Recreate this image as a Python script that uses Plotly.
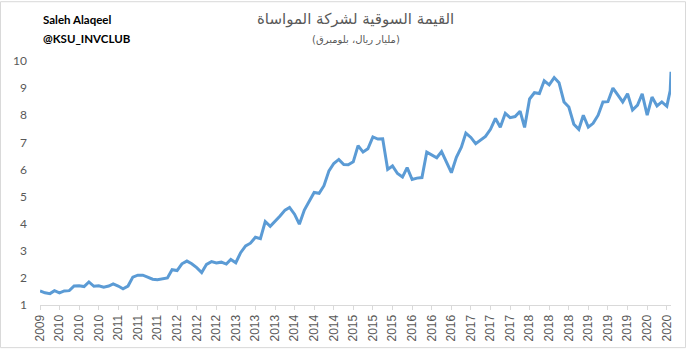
import pandas as pd
import plotly.graph_objects as go

# Monthly market value (billion SAR), Dec 2009 .. Aug 2020, plus two late-Aug readings
month_start = "2009-12-01"
n_months = 129
extra_dates = ["2020-08-22", "2020-08-27"]

values = [
    1.52, 1.45, 1.42, 1.53, 1.45, 1.52, 1.53, 1.70, 1.71, 1.68,
    1.85, 1.69, 1.71, 1.66, 1.70, 1.78, 1.70, 1.60, 1.70, 2.03,
    2.10, 2.10, 2.03, 1.95, 1.93, 1.97, 2.00, 2.30, 2.27, 2.52,
    2.62, 2.52, 2.38, 2.20, 2.50, 2.60, 2.55, 2.58, 2.51, 2.68,
    2.56, 2.93, 3.18, 3.28, 3.50, 3.45, 4.08, 3.90, 4.08, 4.28,
    4.50, 4.60, 4.35, 3.98, 4.50, 4.80, 5.15, 5.12, 5.40, 5.95,
    6.22, 6.37, 6.18, 6.17, 6.28, 6.88, 6.64, 6.76, 7.20, 7.12,
    7.13, 6.00, 6.13, 5.85, 5.72, 6.07, 5.63, 5.68, 5.70, 6.64,
    6.53, 6.43, 6.66, 6.28, 5.88, 6.45, 6.82, 7.34, 7.18, 6.95,
    7.10, 7.22, 7.48, 7.88, 7.56, 8.07, 7.91, 7.95, 8.15, 7.55,
    8.60, 8.83, 8.80, 9.27, 9.12, 9.39, 9.20, 8.49, 8.30, 7.67,
    7.48, 8.00, 7.56, 7.70, 8.00, 8.49, 8.50, 9.00, 8.75, 8.49,
    8.79, 8.19, 8.37, 8.79, 8.00, 8.67, 8.34, 8.49, 8.33,
    8.91, 9.60,
]

tick_labels = [
    "2009", "2010", "2010", "2010", "2011", "2011", "2011",
    "2012", "2012", "2012", "2013", "2013", "2013",
    "2014", "2014", "2014", "2015", "2015", "2015",
    "2016", "2016", "2016", "2017", "2017", "2017",
    "2018", "2018", "2018", "2019", "2019", "2019",
    "2020", "2020",
]

title_text = "القيمة السوقية لشركة المواساة"
subtitle_text = "(مليار ريال، بلومبرق)"
author_lines = ["Saleh Alaqeel", "@KSU_INVCLUB"]

dates = list(pd.date_range(month_start, periods=n_months, freq="MS").strftime("%Y-%m-%d")) + extra_dates
tick_dates = dates[0:n_months:4]

W, H = 687, 354
L, R, T, B = 40, 16, 61, 44
pw, ph = W - L - R, H - T - B

def px_x(p):
    return (p - L) / pw

def px_y(p):
    return (H - B - p) / ph

fig = go.Figure()
fig.add_trace(go.Scatter(
    x=dates, y=values, mode="lines",
    line=dict(color="#5B9BD5", width=3),
    hoverinfo="skip",
))

gray = "#595959"
fig.update_layout(
    width=W, height=H,
    margin=dict(l=L, r=R, t=T, b=B),
    paper_bgcolor="white", plot_bgcolor="white",
    showlegend=False,
    xaxis=dict(
        type="date",
        range=[dates[0], dates[-1]],
        tickmode="array", tickvals=tick_dates, ticktext=tick_labels,
        tickangle=-90,
        tickfont=dict(family="Liberation Sans, Arial", size=12, color=gray),
        ticks="outside", ticklen=4, tickcolor="#d9d9d9", tickwidth=1,
        showline=True, linecolor="#d9d9d9", linewidth=1,
        showgrid=False, zeroline=False,
    ),
    yaxis=dict(
        range=[1, 10], tickmode="array", tickvals=list(range(1, 11)),
        tickfont=dict(family="Lato, Carlito, sans-serif", size=12, color=gray),
        showline=False, showgrid=False, zeroline=False,
        ticks="", ticklabelstandoff=12,
    ),
)

annotations = [
    dict(text=title_text, x=0.5, y=px_y(18), xref="paper", yref="paper",
         showarrow=False, xanchor="center", yanchor="middle",
         font=dict(family="DejaVu Sans", size=15, color=gray)),
    dict(text=subtitle_text, x=0.5, y=px_y(39), xref="paper", yref="paper",
         showarrow=False, xanchor="center", yanchor="middle",
         font=dict(family="DejaVu Sans", size=10, color=gray)),
]
for i, line in enumerate(author_lines):
    annotations.append(dict(
        text="<b>" + line + "</b>", x=px_x(41), y=px_y(19 + 19 * i),
        xref="paper", yref="paper", showarrow=False,
        xanchor="left", yanchor="middle",
        font=dict(family="Lato, Carlito, sans-serif", size=11.5, color="black"),
    ))
fig.update_layout(annotations=annotations)

fig.add_shape(type="rect", xref="paper", yref="paper",
              x0=px_x(0.5), x1=px_x(W - 1.5), y0=px_y(H - 0.5), y1=px_y(0.5),
              line=dict(color="#d9d9d9", width=1), fillcolor="rgba(0,0,0,0)")

fig.write_html("out.html")
